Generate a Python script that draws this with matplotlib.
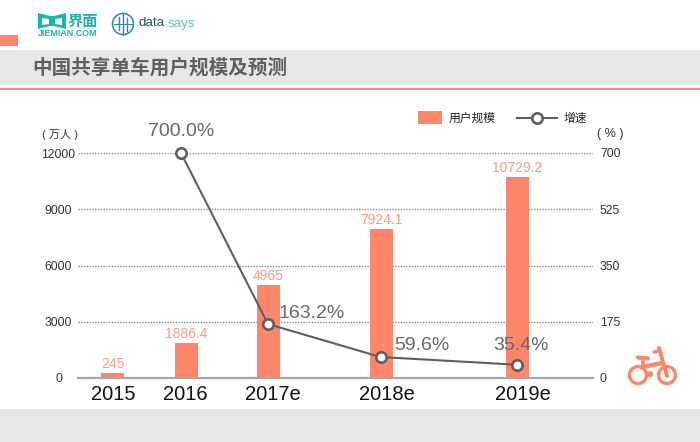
import matplotlib
matplotlib.use('Agg')
import matplotlib.pyplot as plt
from matplotlib.patches import Rectangle, Circle, Polygon

plt.rcParams['font.family'] = ['Liberation Sans', 'Noto Sans CJK SC', 'DejaVu Sans']

categories = ['2015', '2016', '2017e', '2018e', '2019e']
users = [245, 1886.4, 4965, 7924.1, 10729.2]
user_labels = ['245', '1886.4', '4965', '7924.1', '10729.2']
growth = [700.0, 163.2, 59.6, 35.4]
growth_labels = ['700.0%', '163.2%', '59.6%', '35.4%']
left_ticks = [0, 3000, 6000, 9000, 12000]
right_ticks = [0, 175, 350, 525, 700]
bar_px = [112.5, 186.5, 268.5, 381, 517]
line_px = [181, 268, 380.5, 517]
label_px = [(181, 131.5), (311.5, 313), (422, 346), (521, 346)]
cat_px = [113, 185, 273, 387, 523]

ORANGE = '#FF866A'
LABEL = '#FF9A82'
GREY = '#5F5F5F'
BAND = '#E8E7E5'
TEAL = '#1CB5AC'
W, H = 700, 442

fig = plt.figure(figsize=(7, 4.42), dpi=100, facecolor='white')

# page-level layer in pixel coordinates
bg = fig.add_axes([0, 0, 1, 1])
bg.set_xlim(0, W); bg.set_ylim(H, 0); bg.axis('off')
bg.add_patch(Rectangle((0, 50), W, 35, fc=BAND, ec='none'))
bg.add_patch(Rectangle((0, 88), W, 2, fc=ORANGE, ec='none'))
bg.add_patch(Rectangle((0, 35), 18, 11, fc=ORANGE, ec='none'))
bg.add_patch(Rectangle((0, 409), W, 33, fc=BAND, ec='none'))
bg.text(32.5, 68, '中国共享单车用户规模及预测', fontsize=14.1, color=GREY, fontweight='bold',
        va='center', ha='left', family=['Noto Sans CJK SC'])

# JieMian logo
bg.add_patch(Polygon([(38, 13), (50, 16), (54, 16), (66, 13), (66, 29), (54, 26), (50, 26), (38, 29)],
                     fc=TEAL, ec='none'))
bg.add_patch(Polygon([(42, 18), (49, 19), (49, 24), (42, 25)], fc='white', ec='none'))
bg.add_patch(Polygon([(55, 19), (62, 18), (62, 25), (55, 24)], fc='white', ec='none'))
bg.text(68, 20.5, '界面', fontsize=11, color=TEAL, fontweight='bold', va='center', ha='left',
        family=['Noto Sans CJK SC'])
bg.text(68, 33, 'JIEMIAN.COM', fontsize=6.4, color=TEAL, fontweight='bold', va='center', ha='center')

# data says logo
bg.add_patch(Circle((123, 24), 10.5, fc='none', ec='#2F86A8', lw=1.1))
for x0, y0, y1 in [(119, 17, 30), (123, 13, 35), (127, 18, 31)]:
    bg.plot([x0, x0], [y0, y1], color='#2F86A8', lw=1.0)
bg.plot([114, 132], [24, 24], color='#2F86A8', lw=0.8)
bg.text(138.5, 23.5, 'data', fontsize=9.6, color='#24506B', va='center', ha='left')
bg.text(167.5, 23.5, 'says', fontsize=9.6, color='#5CC4C8', va='center', ha='left')

# bicycle icon
bg.add_patch(Circle((638, 375), 8.5, fc='none', ec=ORANGE, lw=2.4))
bg.add_patch(Circle((667, 375), 8.5, fc='none', ec=ORANGE, lw=2.4))
bg.plot([643, 643], [358, 367], color=ORANGE, lw=2.6)
bg.plot([642, 662], [367, 363], color=ORANGE, lw=3.2)
bg.plot([638, 648], [357.5, 358.5], color=ORANGE, lw=3, solid_capstyle='round')
bg.plot([659, 667], [348, 376], color=ORANGE, lw=2.8, solid_capstyle='round')
bg.plot([654, 660], [352, 350.5], color=ORANGE, lw=2.4, solid_capstyle='round')
bg.add_patch(Circle((650, 374), 3, fc=ORANGE, ec='none'))

# chart
ax_l, ax_r, ax_top, ax_bot = 78, 593, 153, 378
line_bot = 376
ax = fig.add_axes([ax_l / W, 1 - ax_bot / H, (ax_r - ax_l) / W, (ax_bot - ax_top) / H])
ax.patch.set_alpha(0)
ax.set_xlim(ax_l, ax_r)
ax.set_ylim(0, 12000)
ax2 = ax.twinx()
ax2.patch.set_alpha(0)
ax2.set_ylim(0, 700)

ax.bar(bar_px, users, width=23, color=ORANGE, zorder=2)
for s in list(ax.spines.values()) + list(ax2.spines.values()):
    s.set_visible(False)
ax.set_yticks(left_ticks)
ax.set_yticklabels([str(t) for t in left_ticks], fontsize=8.8, color='#333333', ha='center')
ax.tick_params(axis='y', length=0, pad=14)
ax.set_xticks([])
ax.grid(axis='y', color='#8A8A8A', ls=(0, (1, 1)), lw=1.0, zorder=1)
ax.axhline(0, color='#A8A8A8', lw=1.6, zorder=3, clip_on=False)
ax2.set_yticks(right_ticks)
ax2.set_yticklabels([str(t) for t in right_ticks], fontsize=8.8, color='#333333')
ax2.tick_params(axis='y', length=0, pad=5)

# the growth line sits on its own scale, its zero slightly above the baseline
ax3 = fig.add_axes([ax_l / W, 1 - line_bot / H, (ax_r - ax_l) / W, (line_bot - ax_top) / H])
ax3.patch.set_alpha(0)
ax3.axis('off')
ax3.set_xlim(ax_l, ax_r)
ax3.set_ylim(0, 700)
ax3.plot(line_px, growth, color=GREY, lw=1.5, marker='o', ms=7.5, mfc='white',
         mec=GREY, mew=1.9, zorder=5, clip_on=False)

for x, v, t in zip(bar_px, users, user_labels):
    ax.annotate(t, (x, v), xytext=(0, 1.5), textcoords='offset points', ha='center', va='bottom',
                fontsize=10, color=LABEL)

# overlay layer so text stays above the bars
fg = fig.add_axes([0, 0, 1, 1])
fg.set_xlim(0, W); fg.set_ylim(H, 0); fg.axis('off'); fg.patch.set_alpha(0)
for (x, y), t in zip(label_px, growth_labels):
    fg.text(x, y, t, ha='center', va='center', fontsize=14, color='#686868')
for x, t in zip(cat_px, categories):
    fg.text(x, 395, t, ha='center', va='center', fontsize=14.5, color='#111111')

fg.text(60, 134, '( 万人 )', ha='center', va='center', fontsize=8, color='#333333',
        family=['Liberation Sans', 'Noto Sans CJK SC'])
fg.text(610, 134, '( % )', ha='center', va='center', fontsize=9, color='#333333')

# legend
fg.add_patch(Rectangle((418, 111), 24, 13, fc=ORANGE, ec='none'))
fg.text(449, 118, '用户规模', ha='left', va='center', fontsize=8.5, color='#222222',
        family=['Noto Sans CJK SC'])
fg.plot([517, 557], [118, 118], color=GREY, lw=1.5, zorder=3)
fg.plot([537], [118], marker='o', ms=7.5, mfc='white', mec=GREY, mew=1.9, color=GREY, zorder=4)
fg.text(564, 118, '增速', ha='left', va='center', fontsize=8.5, color='#222222',
        family=['Noto Sans CJK SC'])

fig.savefig('out.png', dpi=100)
